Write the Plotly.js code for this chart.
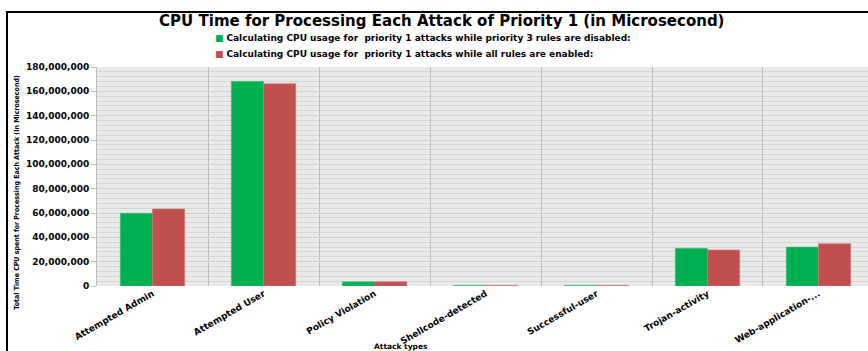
<!DOCTYPE html>
<html>
<head>
<meta charset="utf-8">
<script src="https://cdn.plot.ly/plotly-3.0.1.min.js"></script>
<style>
  html, body { margin: 0; padding: 0; background: #ffffff; overflow: hidden; }
  #wrap { position: relative; width: 868px; height: 351px; }
  #chart { width: 868px; height: 351px; }
  /* chart frame: left and top edges */
  #frame {
    position: absolute; left: 6px; top: 11px; width: 900px; height: 400px;
    border-left: 2px solid #000000; border-top: 2px solid #000000;
    pointer-events: none;
  }
</style>
</head>
<body>
<div id="wrap">
  <div id="chart"></div>
  <div id="frame"></div>
</div>
<script>
// Attack categories (priority 1)
const attackTypes = [
  "Attempted Admin",
  "Attempted User",
  "Policy Violation",
  "Shellcode-detected",
  "Successful-user",
  "Trojan-activity",
  "Web-application-..."
];

// CPU time in microseconds
const cpuPriority3Disabled = [59800000, 168200000, 3500000, 500000, 500000, 31000000, 32000000];
const cpuAllRulesEnabled   = [63300000, 166200000, 3500000, 500000, 500000, 29600000, 34800000];

// Y tick labels
const yTickValues = [0, 20000000, 40000000, 60000000, 80000000, 100000000, 120000000, 140000000, 160000000, 180000000];
const yTickLabels = ["0", "20,000,000", "40,000,000", "60,000,000", "80,000,000", "100,000,000", "120,000,000", "140,000,000", "160,000,000", "180,000,000"];

const seriesNames = [
  "Calculating CPU usage for  priority 1 attacks while priority 3 rules are disabled:",
  "Calculating CPU usage for  priority 1 attacks while all rules are enabled:"
];
const seriesColors = ["#00b050", "#c0504d"];

const wideFont = "'DejaVu Sans', Verdana, sans-serif";
const narrowFont = "'DejaVu Sans Condensed', 'Liberation Sans Narrow', 'Liberation Sans', sans-serif";

const traces = [
  {
    type: "bar",
    name: seriesNames[0],
    x: attackTypes,
    y: cpuPriority3Disabled,
    marker: { color: seriesColors[0], line: { color: "#3cc47a", width: 0.6 } },
    hoverinfo: "x+y"
  },
  {
    type: "bar",
    name: seriesNames[1],
    x: attackTypes,
    y: cpuAllRulesEnabled,
    marker: { color: seriesColors[1], line: { color: "#d07a78", width: 0.6 } },
    hoverinfo: "x+y"
  }
];

// Legend drawn as stacked text rows above the plot area
const legendRows = seriesNames.map((name, i) => ({
  text: '<span style="color:' + seriesColors[i] + '">\u25A0</span> <b>' + name.replace(/  /g, " \u00A0") + '</b>',
  xref: "paper", yref: "paper",
  x: 0.1505, y: i === 0 ? 1.1324 : 1.0594,
  xanchor: "left", yanchor: "middle",
  showarrow: false,
  font: { family: wideFont, size: 9, color: "#000000" }
}));

const layout = {
  width: 868,
  height: 351,
  margin: { l: 97, r: 0, t: 67, b: 65 },
  paper_bgcolor: "#ffffff",
  plot_bgcolor: "#e9e9e9",
  font: { family: wideFont, color: "#000000" },
  barmode: "group",
  bargap: 0.42,
  bargroupgap: 0,
  showlegend: false,
  title: {
    text: "<b>CPU Time for Processing Each Attack of Priority 1 (in Microsecond)</b>",
    font: { family: wideFont, size: 15, color: "#000000" },
    xref: "container", yref: "container",
    x: 0.509, xanchor: "center",
    y: 0.94, yanchor: "middle"
  },
  xaxis: {
    type: "category",
    range: [-0.5, 6.446],
    tickangle: -30,
    tickson: "boundaries",
    showgrid: true,
    gridcolor: "#bdbdbd",
    gridwidth: 1,
    ticks: "",
    showline: false,
    tickfont: { family: wideFont, size: 9, color: "#000000", weight: "bold" },
    fixedrange: true
  },
  yaxis: {
    range: [0, 180000000],
    tickvals: yTickValues,
    ticktext: yTickLabels,
    ticks: "outside",
    ticklen: 5,
    tickcolor: "#bdbdbd",
    showgrid: true,
    gridcolor: "#cfcfcf",
    gridwidth: 1,
    minor: { dtick: 4000000, showgrid: true, gridcolor: "#d6d6d6", gridwidth: 1 },
    zeroline: false,
    showline: true,
    linecolor: "#bdbdbd",
    tickfont: { family: wideFont, size: 9, color: "#000000", weight: "bold" },
    fixedrange: true
  },
  annotations: legendRows.concat([
    {
      text: "<b>Total Time CPU spent for Processing Each Attack (In Microsecond)</b>",
      xref: "paper", yref: "paper",
      x: -0.104, y: 0.43, xanchor: "center", yanchor: "middle",
      textangle: -90,
      showarrow: false,
      font: { family: narrowFont, size: 7, color: "#000000" }
    },
    {
      text: "<b>Attack types</b>",
      xref: "paper", yref: "paper",
      x: 0.394, y: -0.278, xanchor: "center", yanchor: "middle",
      showarrow: false,
      font: { family: wideFont, size: 7.5, color: "#000000" }
    }
  ])
};

Plotly.newPlot("chart", traces, layout, { displayModeBar: false, staticPlot: true });
</script>
</body>
</html>
